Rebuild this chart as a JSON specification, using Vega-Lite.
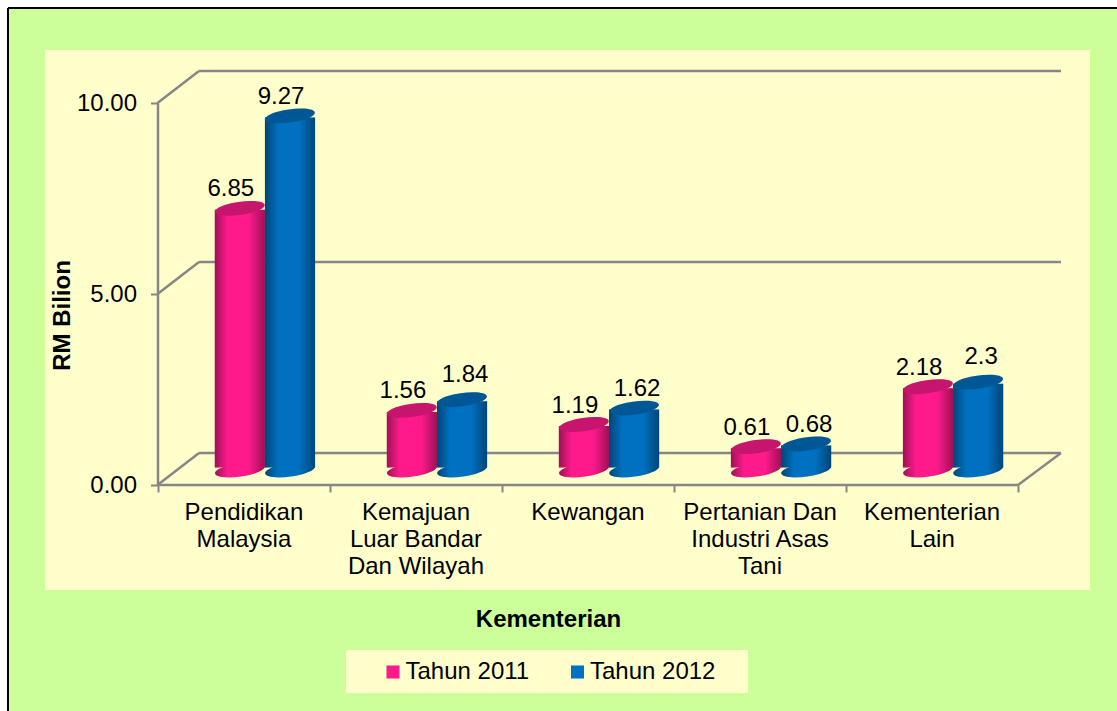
{
"$schema":"https://vega.github.io/schema/vega-lite/v6.json",
"width":1109,"height":703,
"autosize":{"type":"none"},
"padding":{"left":8,"top":8,"right":0,"bottom":0},
"background":"#FFFFFF",
"view":{"fill":"#CCFF99","stroke":null},
"config":{"font":"Liberation Sans"},
"data":{"values":[
{"kementerian":"Pendidikan|Malaysia","tahun":"Tahun 2011","nilai":6.85},
{"kementerian":"Pendidikan|Malaysia","tahun":"Tahun 2012","nilai":9.27},
{"kementerian":"Kemajuan|Luar Bandar|Dan Wilayah","tahun":"Tahun 2011","nilai":1.56},
{"kementerian":"Kemajuan|Luar Bandar|Dan Wilayah","tahun":"Tahun 2012","nilai":1.84},
{"kementerian":"Kewangan","tahun":"Tahun 2011","nilai":1.19},
{"kementerian":"Kewangan","tahun":"Tahun 2012","nilai":1.62},
{"kementerian":"Pertanian Dan|Industri Asas|Tani","tahun":"Tahun 2011","nilai":0.61},
{"kementerian":"Pertanian Dan|Industri Asas|Tani","tahun":"Tahun 2012","nilai":0.68},
{"kementerian":"Kementerian|Lain","tahun":"Tahun 2011","nilai":2.18},
{"kementerian":"Kementerian|Lain","tahun":"Tahun 2012","nilai":2.3}
]},
"resolve":{"scale":{"x":"independent"},"axis":{"x":"independent"}},
"layer":[
{"data":{"values":[{}]},"mark":{"type":"rect","fill":"#FFFFCC"},"encoding":{"x":{"value":37},"x2":{"value":1082},"y":{"value":42},"y2":{"value":582}}},
{"data":{"values":[{}]},"mark":{"type":"rect","fill":"#FFFFCC"},"encoding":{"x":{"value":338},"x2":{"value":740},"y":{"value":642},"y2":{"value":685}}},
{
"data":{"values":[{"v":0},{"v":5},{"v":10}]},
"layer":[
{"mark":{"type":"rule","color":"#868686","strokeWidth":2.5,"xOffset":41.5,"x2Offset":43,"yOffset":-32,"y2Offset":-32},
 "encoding":{
  "x":{"datum":0,"type":"quantitative","scale":{"domain":[0,5],"range":[149.5,1010],"nice":false},
       "axis":{"orient":"bottom","title":null,"labels":false,"domain":false,"values":[0,1,2,3,4,5],"tickColor":"#868686","tickWidth":2,"tickSize":7,"offset":-226,"grid":false,"zindex":1}},
  "x2":{"datum":5},
  "y":{"field":"v","type":"quantitative","scale":{"domain":[0,10],"range":[477,95],"nice":false},
       "axis":{"title":"RM Bilion","titleFontSize":24,"titleFontWeight":"bold","titleColor":"#000000","titleX":-95.5,"titleY":307,"titleAngle":-90,"titleAlign":"center","titleBaseline":"middle",
               "values":[0,5,10],"format":".2f","labelFontSize":24,"labelColor":"#000000","labelPadding":14,"tickColor":"#868686","tickWidth":2,"tickSize":7,"domainColor":"#868686","domainWidth":2.5,"offset":-149.5,"grid":false,"zindex":1}},
  "y2":{"field":"v"}}},
{"mark":{"type":"rule","color":"#868686","strokeWidth":2.5,"x2Offset":41.5,"y2Offset":-32},
 "encoding":{
  "x":{"datum":0,"type":"quantitative","scale":{"domain":[0,5],"range":[149.5,1010],"nice":false}},
  "x2":{"datum":0},
  "y":{"field":"v","type":"quantitative","scale":{"domain":[0,10],"range":[477,95],"nice":false}},
  "y2":{"field":"v"}}},
{"transform":[{"filter":"datum.v===0"}],"mark":{"type":"rule","color":"#868686","strokeWidth":2.5,"x2Offset":43,"y2Offset":-32},
 "encoding":{
  "x":{"datum":5,"type":"quantitative","scale":{"domain":[0,5],"range":[149.5,1010],"nice":false}},
  "x2":{"datum":5},
  "y":{"field":"v","type":"quantitative","scale":{"domain":[0,10],"range":[477,95],"nice":false}},
  "y2":{"field":"v"}}},
{"transform":[{"filter":"datum.v===0"}],"mark":{"type":"rule","color":"#868686","strokeWidth":2.5},
 "encoding":{
  "x":{"datum":0,"type":"quantitative","scale":{"domain":[0,5],"range":[149.5,1010],"nice":false}},
  "x2":{"datum":5},
  "y":{"field":"v","type":"quantitative","scale":{"domain":[0,10],"range":[477,95],"nice":false}}}}
]},
{
"encoding":{
 "x":{"field":"kementerian","type":"nominal","sort":null,
      "scale":{"range":[171,1031],"paddingInner":0.417,"paddingOuter":0.208},
      "axis":{"orient":"bottom","title":"Kementerian","titleFontSize":24,"titleFontWeight":"bold","titleColor":"#000000","titleX":540,"titleY":134,"titleAlign":"center","titleBaseline":"middle",
              "labelExpr":"split(datum.label,'|')","labelAngle":0,"labelFontSize":24,"labelColor":"#000000","labelLineHeight":27,"labelOffset":-21,"labelPadding":15,"labelBaseline":"top","labelLimit":0,"domain":false,"ticks":false,"offset":-226,"grid":false,"zindex":1}},
 "xOffset":{"field":"tahun","type":"nominal","scale":{"paddingInner":0,"paddingOuter":0}},
 "y":{"field":"nilai","type":"quantitative","scale":{"domain":[0,10],"range":[477,95],"nice":false}}
},
"layer":[
{"mark":{"type":"point","filled":true,"opacity":1,"size":2500,"strokeWidth":0,"yOffset":-15,
   "shape":"M-0.99,0.14 A1,0.26 -8 1 1 0.99,-0.14 A1,0.26 -8 1 1 -0.99,0.14 Z"},
 "encoding":{"y":{"datum":0,"type":"quantitative","scale":{"domain":[0,10],"range":[477,95],"nice":false}},
   "color":{"field":"tahun","type":"nominal","scale":{"domain":["Tahun 2011","Tahun 2012"],"range":["#FF1A8C","#0070C0"]},
     "legend":{"orient":"none","legendX":373,"legendY":652,"title":null,"direction":"horizontal","columns":2,"columnPadding":35.5,"symbolType":"square","symbolSize":170,"symbolStrokeWidth":0,"labelFontSize":24,"labelColor":"#000000","labelOffset":0.5,"labelLimit":0,"padding":0}}}},
{"mark":{"type":"point","filled":true,"opacity":1,"size":2500,"strokeWidth":0,"yOffset":-15,
   "fill":{"gradient":"linear","x1":0,"x2":1,"y1":0,"y2":0,"stops":[{"offset":0,"color":"rgba(0,0,0,0.38)"},{"offset":0.26,"color":"rgba(0,0,0,0)"},{"offset":0.68,"color":"rgba(0,0,0,0)"},{"offset":1,"color":"rgba(0,0,0,0.38)"}]},
   "shape":"M-0.99,0.14 A1,0.26 -8 1 1 0.99,-0.14 A1,0.26 -8 1 1 -0.99,0.14 Z"},
 "encoding":{"y":{"datum":0,"type":"quantitative","scale":{"domain":[0,10],"range":[477,95],"nice":false}}}},
{"mark":{"type":"bar","yOffset":-13.5,"y2Offset":-17.5},
 "encoding":{"y2":{"datum":0},
   "color":{"field":"tahun","type":"nominal","scale":{"domain":["Tahun 2011","Tahun 2012"],"range":["#FF1A8C","#0070C0"]}}}},
{"mark":{"type":"bar","yOffset":-13.5,"y2Offset":-17.5,
   "fill":{"gradient":"linear","x1":0,"x2":1,"y1":0,"y2":0,"stops":[{"offset":0,"color":"rgba(0,0,0,0.38)"},{"offset":0.26,"color":"rgba(0,0,0,0)"},{"offset":0.68,"color":"rgba(0,0,0,0)"},{"offset":1,"color":"rgba(0,0,0,0.38)"}]}},
 "encoding":{"y2":{"datum":0}}},
{"mark":{"type":"point","filled":true,"opacity":1,"size":2500,"strokeWidth":0,"yOffset":-15,
   "shape":"M-0.99,0.14 A1,0.26 -8 1 1 0.99,-0.14 A1,0.26 -8 1 1 -0.99,0.14 Z"},
 "encoding":{"color":{"field":"tahun","type":"nominal","scale":{"domain":["Tahun 2011","Tahun 2012"],"range":["#FF1A8C","#0070C0"]}}}},
{"mark":{"type":"point","filled":true,"opacity":1,"fill":"#000000","fillOpacity":0.22,"size":2500,"strokeWidth":0,"yOffset":-15,
   "shape":"M-0.99,0.14 A1,0.26 -8 1 1 0.99,-0.14 A1,0.26 -8 1 1 -0.99,0.14 Z"}},
{"mark":{"type":"text","fontSize":24,"color":"#000000","baseline":"middle",
   "dx":{"expr":"datum.nilai>5 ? -9 : (datum.tahun=='Tahun 2012' ? 3 : -9)"},
   "dy":{"expr":"(datum.nilai==1.84||datum.nilai==2.3) ? -40 : -34"}},
 "encoding":{"text":{"field":"nilai","type":"quantitative"}}}
]},
{"data":{"values":[{}]},"mark":{"type":"rule","color":"#000000","strokeWidth":2},"encoding":{"x":{"value":0}}},
{"data":{"values":[{}]},"mark":{"type":"rule","color":"#000000","strokeWidth":2},"encoding":{"y":{"value":0}}}
]
}
